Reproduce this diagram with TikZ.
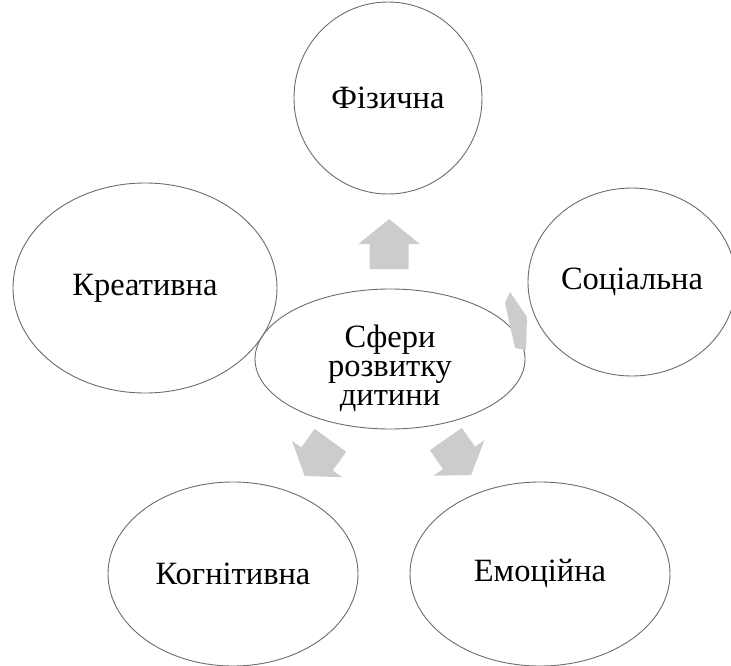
\documentclass[tikz,border=0pt]{standalone}
\usepackage{fontspec}
\newfontfamily\timesfont{Liberation Serif}
\usetikzlibrary{shapes.geometric,calc}
\begin{document}
\begin{tikzpicture}[x=1pt,y=-1pt,
  bubble/.style={ellipse, draw=gray!85!black, line width=0.9pt, inner sep=0pt,
    align=center, font=\timesfont\fontsize{32.5}{29}\selectfont},
  blockarrow/.style={fill=gray!40, draw=none}]
\useasboundingbox (0,0) rectangle (731,666);
% nodes
\node[bubble, minimum width=270pt, minimum height=140pt] (ctr) at (390,359)
  {\raisebox{-17pt}[0pt][0pt]{\begin{tabular}{@{}c@{}}Сфери\\розвитку\\дитини\end{tabular}}};
\node[bubble, minimum width=188pt, minimum height=192pt] (phys) at (388,98) {Фізична};
\node[bubble, minimum width=208pt, minimum height=188pt] (soc) at (632,282) {Соціальна};
\node[bubble, minimum width=264pt, minimum height=210pt] (krea) at (145,288) {Креативна};
\node[bubble, minimum width=250pt, minimum height=184pt] (kog) at (233,574) {Когнітивна};
\node[bubble, minimum width=260pt, minimum height=184pt] (emo) at (540,574) {Емоційна};
% block arrows
\fill[blockarrow, shift={($(ctr)!0.44!(phys)$)}, rotate=90]
  (-25,-19.5) -- (0,-19.5) -- (0,-31) -- (25,0) -- (0,31) -- (0,19.5) -- (-25,19.5) -- cycle;
\fill[blockarrow, shift={($(ctr)!0.465!(kog)$)}, rotate=234]
  (-23,-19.5) -- (0,-19.5) -- (0,-31) -- (21,0) -- (0,31) -- (0,19.5) -- (-23,19.5) -- cycle;
\fill[blockarrow, shift={($(ctr)!0.46!(emo)$)}, rotate=-55]
  (-23,-19.5) -- (0,-19.5) -- (0,-31) -- (21,0) -- (0,31) -- (0,19.5) -- (-23,19.5) -- cycle;
\fill[blockarrow] (510,292) -- (527,317) -- (526,350) -- (515,348) -- (505,303) -- cycle;
\end{tikzpicture}
\end{document}
